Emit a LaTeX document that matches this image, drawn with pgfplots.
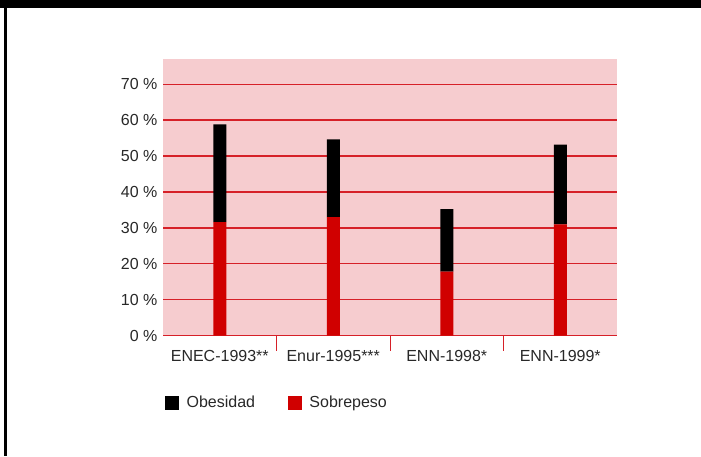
\documentclass[border=0pt]{standalone}
\usepackage{fontspec}
\setmainfont{Liberation Sans}
\usepackage{pgfplots}
\pgfplotsset{compat=1.18}
\definecolor{bgpink}{RGB}{246,204,207}
\definecolor{gridred}{RGB}{214,32,40}
\definecolor{barred}{RGB}{208,0,0}
\definecolor{txt}{RGB}{40,40,40}
\begin{document}
\begin{tikzpicture}
\path[use as bounding box] (0pt,0pt) rectangle (701pt,456pt);
\fill[black] (0pt,448pt) rectangle (701pt,456pt);
\fill[black] (3.5pt,0pt) rectangle (6.5pt,448pt);
\begin{axis}[
  at={(163pt,120.3pt)}, anchor=south west,
  width=454pt, height=276.7pt, scale only axis,
  xmin=-0.5, xmax=3.5, ymin=0, ymax=77,
  axis background/.style={fill=bgpink},
  axis line style={draw=none},
  ytick={0,10,...,70},
  ymajorgrids, major grid style={gridred, line width=1.3pt},
  yticklabel={\pgfmathprintnumber{\tick} \%},
  /pgf/number format/assume math mode=true,
  major tick length=0pt,
  xtick={0,1,2,3},
  xticklabels={ENEC-1993**, Enur-1995***, ENN-1998*, ENN-1999*},
  minor xtick={0.5,1.5,2.5},
  minor tick length=15pt, tick align=outside, xtick pos=bottom,
  minor tick style={gridred, line width=1pt},
  tick label style={font=\fontsize{16}{19}\selectfont, text=txt},
  xticklabel style={anchor=base, yshift=-26pt},
  yticklabel style={xshift=-2pt},
  ybar stacked, bar width=13pt,
  legend columns=2,
  legend style={at={(0,0)}, anchor=west, xshift=2pt, yshift=-66.8pt,
    draw=none, fill=none, inner sep=0pt,
    font=\fontsize{16}{19}\selectfont, text=txt,
    /tikz/every even column/.append style={column sep=31pt}},
  legend cell align=left,
]
\addlegendimage{legend image code/.code={\fill[black] (0pt,-6.5pt) rectangle (13pt,6.5pt); \path (19pt,0pt);}}
\addlegendentry{Obesidad}
\addlegendimage{legend image code/.code={\fill[barred] (0pt,-6.5pt) rectangle (13pt,6.5pt); \path (19pt,0pt);}}
\addlegendentry{Sobrepeso}
\addplot[fill=barred, draw=none, forget plot] coordinates {(0,31.6) (1,33.0) (2,17.8) (3,31.0)};
\addplot[fill=black, draw=none, forget plot] coordinates {(0,27.2) (1,21.6) (2,17.4) (3,22.2)};
\end{axis}
\end{tikzpicture}
\end{document}
